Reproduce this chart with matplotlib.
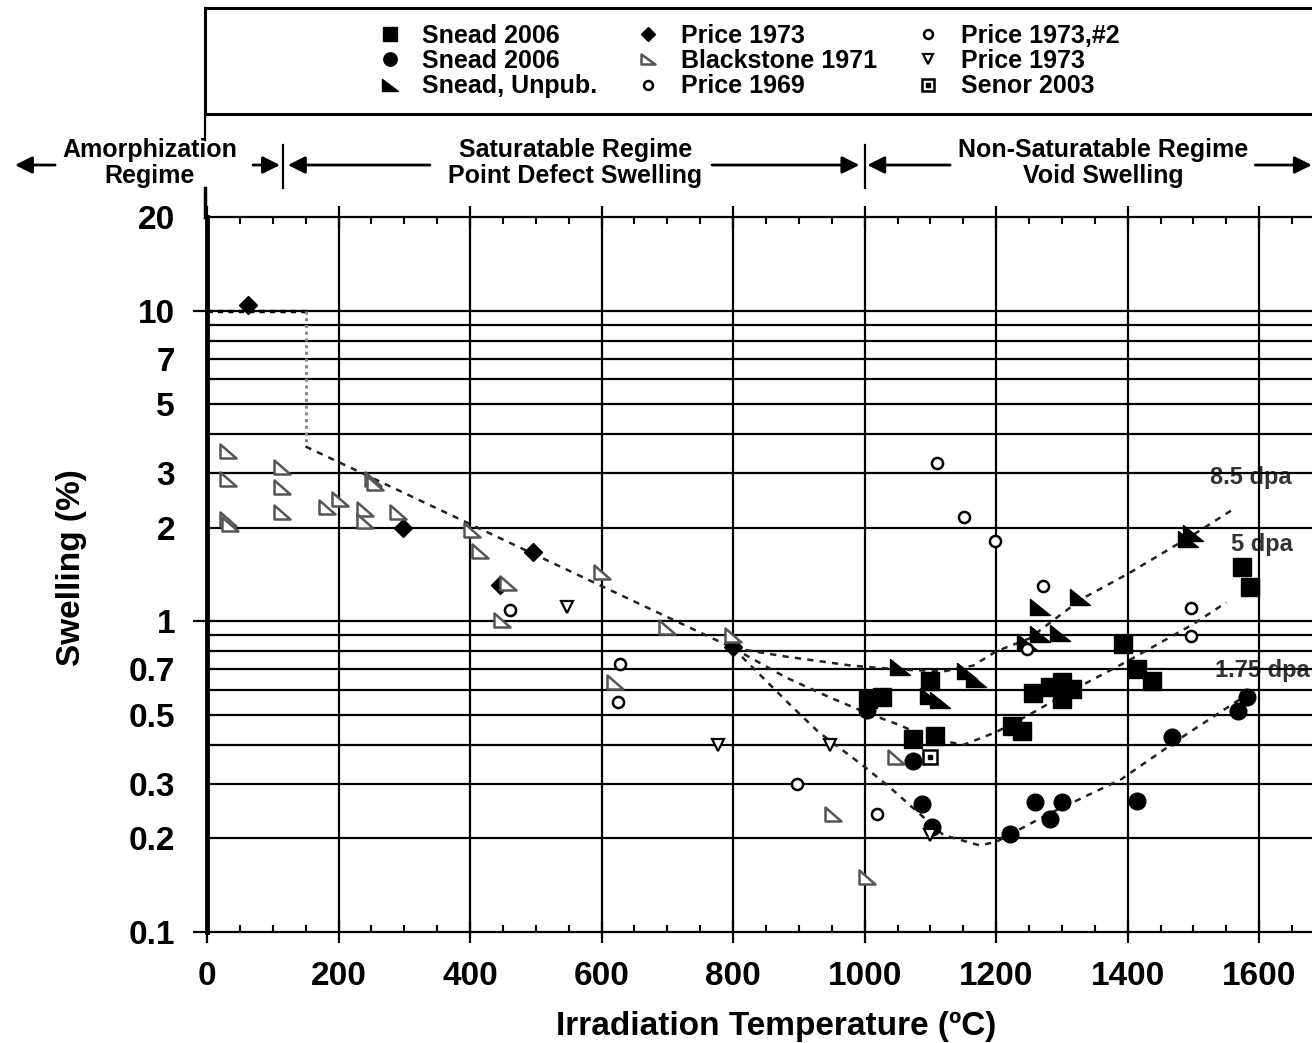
import matplotlib
matplotlib.use("Agg")
import matplotlib.pyplot as plt
from matplotlib.path import Path
from matplotlib.lines import Line2D
from matplotlib.patches import Rectangle
from matplotlib.ticker import FixedLocator, FixedFormatter, MultipleLocator

plt.rcParams['font.family'] = ['Liberation Sans', 'DejaVu Sans']
plt.rcParams['font.weight'] = 'bold'

# ---- measured swelling data (temperature in C, swelling in %) ----
snead_sq_t = [1005, 1027, 1100, 1074, 1107, 1224, 1240, 1256, 1282, 1300, 1300, 1316, 1393, 1414, 1437, 1574, 1586]
snead_sq_s = [0.561, 0.570, 0.641, 0.418, 0.427, 0.460, 0.443, 0.587, 0.613, 0.637, 0.561, 0.604, 0.844, 0.70, 0.641, 1.50, 1.29]

snead_ci_t = [1004, 1074, 1087, 1103, 1221, 1259, 1300, 1282, 1414, 1468, 1567, 1582]
snead_ci_s = [0.52, 0.355, 0.258, 0.218, 0.207, 0.262, 0.262, 0.231, 0.264, 0.424, 0.514, 0.57]

snead_un_t = [1054, 1155, 1170, 1100, 1115, 1267, 1247, 1267, 1297, 1328, 1492, 1500]
snead_un_s = [0.711, 0.69, 0.65, 0.575, 0.56, 1.11, 0.856, 0.908, 0.92, 1.20, 1.84, 1.93]

price73_t = [62, 298, 446, 496, 800]
price73_s = [10.4, 2.0, 1.31, 1.67, 0.825]

black71_t = [32, 32, 32, 35, 114, 114, 114, 183, 202, 240, 240, 252, 255, 290, 403, 415,
             458, 449, 601, 700, 620, 800, 952, 1004, 1048]
black71_s = [3.52, 2.86, 2.13, 2.06, 3.13, 2.70, 2.24, 2.33, 2.47, 2.29, 2.10, 2.86, 2.78, 2.24, 1.97, 1.68,
             1.33, 1.01, 1.44, 0.957, 0.636, 0.90, 0.24, 0.15, 0.366]

price69_t = [461, 625, 628, 897, 1019]
price69_s = [1.09, 0.55, 0.727, 0.30, 0.24]

price73b_t = [1110, 1151, 1198, 1271, 1497, 1497, 1247]
price73b_s = [3.22, 2.16, 1.81, 1.30, 1.10, 0.895, 0.813]

price73v_t = [548, 777, 948, 1100]
price73v_s = [1.11, 0.40, 0.40, 0.205]

senor_t = [1100]
senor_s = [0.365]

# ---- trend lines ----
amorph_t = [0, 150, 150]
amorph_s = [10, 10, 3.65]
sat_t = [150, 800]
sat_s = [3.65, 0.82]
dpa85_t = [800, 880, 980, 1050, 1120, 1165, 1200, 1250, 1330, 1400, 1500, 1560]
dpa85_s = [0.82, 0.77, 0.72, 0.70, 0.69, 0.72, 0.80, 0.88, 1.18, 1.42, 1.90, 2.29]
dpa5_t = [800, 880, 943, 1000, 1050, 1100, 1150, 1200, 1250, 1310, 1400, 1500, 1550]
dpa5_s = [0.82, 0.66, 0.574, 0.51, 0.466, 0.42, 0.40, 0.44, 0.50, 0.59, 0.745, 0.98, 1.15]
dpa175_t = [800, 890, 930, 1000, 1040, 1120, 1175, 1200, 1280, 1390, 1480, 1570]
dpa175_s = [0.82, 0.53, 0.44, 0.34, 0.29, 0.205, 0.19, 0.195, 0.24, 0.31, 0.42, 0.56]

dpa_labels = ['8.5 dpa', '5 dpa', '1.75 dpa']
dpa_label_t = [1525, 1557, 1533]
dpa_label_s = [2.9, 1.77, 0.696]

regime_names = ['Amorphization\nRegime', 'Saturatable Regime\nPoint Defect Swelling',
                'Non-Saturatable Regime\nVoid Swelling']
regime_centers = [-87, 560, 1363]
regime_bounds = [116, 1000]

x_ticks = [0, 200, 400, 600, 800, 1000, 1200, 1400, 1600]
y_major = [0.1, 1, 10]
y_minor = [0.2, 0.3, 0.5, 0.7, 2, 3, 5, 7, 20]
y_grid = [0.2, 0.3, 0.4, 0.5, 0.6, 0.7, 0.8, 0.9, 1, 2, 3, 4, 5, 6, 7, 8, 9, 10]

# right-angle triangle marker (vertical left edge, flat bottom)
rtri = Path([(-1, 0.8), (-1, -0.8), (1, -0.8), (-1, 0.8)],
            [Path.MOVETO, Path.LINETO, Path.LINETO, Path.CLOSEPOLY])

W, H = 1312, 1043
fig = plt.figure(figsize=(W / 100, H / 100), dpi=100)
ax = fig.add_axes([207 / W, 1 - 932 / H, 1118 / W, 715 / H])
ax.set_yscale('log')
ax.set_xlim(0, 1700)
ax.set_ylim(0.1, 20)

for xv in x_ticks[1:]:
    ax.axvline(xv, color='k', lw=1.6, zorder=1.5)
for yv in y_grid:
    ax.axhline(yv, color='k', lw=1.6, zorder=1.5)

# trend lines
ax.plot(amorph_t[:2], amorph_s[:2], color='k', lw=2.5, dashes=(1.5, 1.5), zorder=2.5)
ax.plot(amorph_t[1:], amorph_s[1:], color='#888888', lw=2.2, dashes=(1, 1.2), zorder=2.5)
for tt, ss in [(sat_t, sat_s), (dpa85_t, dpa85_s), (dpa5_t, dpa5_s), (dpa175_t, dpa175_s)]:
    ax.plot(tt, ss, color='#222222', lw=1.8, dashes=(2.5, 2.5), zorder=2.5)

for lab, tv, sv in zip(dpa_labels, dpa_label_t, dpa_label_s):
    ax.text(tv, sv, lab, fontsize=17, color='#333333', va='center', ha='left', zorder=1)

# data series
h_sq, = ax.plot(snead_sq_t, snead_sq_s, 's', ms=13, color='k', ls='none', zorder=3)
h_ci, = ax.plot(snead_ci_t, snead_ci_s, 'o', ms=12, color='k', ls='none', zorder=3)
h_un, = ax.plot(snead_un_t, snead_un_s, marker=rtri, ms=14, color='k', ls='none', zorder=3)
h_p73, = ax.plot(price73_t, price73_s, 'D', ms=9, color='k', ls='none', zorder=3)
h_bl, = ax.plot(black71_t, black71_s, marker=rtri, ms=12, mfc='white', mec='#555555', mew=1.8,
                ls='none', zorder=3)
h_p69, = ax.plot(price69_t, price69_s, 'o', ms=8, mfc='white', mec='k', mew=1.8, ls='none', zorder=3)
h_p73b, = ax.plot(price73b_t, price73b_s, 'o', ms=8, mfc='white', mec='k', mew=1.8, ls='none', zorder=3)
h_p73v, = ax.plot(price73v_t, price73v_s, 'v', ms=9, mfc='white', mec='k', mew=1.6, ls='none', zorder=3)
h_sen, = ax.plot(senor_t, senor_s, 's', ms=10, mfc='white', mec='k', mew=1.8, ls='none', zorder=3)
h_sen_dot, = ax.plot(senor_t, senor_s, 's', ms=3, color='k', ls='none', zorder=3.1)

# axes styling
ax.spines['left'].set_linewidth(3.5)
ax.spines['bottom'].set_linewidth(1.6)
ax.spines['top'].set_linewidth(1.6)
ax.spines['right'].set_visible(False)

ax.xaxis.set_major_locator(FixedLocator(x_ticks))
ax.xaxis.set_minor_locator(MultipleLocator(50))
ax.tick_params(axis='x', which='major', direction='inout', length=16, width=1.6,
               top=True, labelsize=24, pad=13)
ax.tick_params(axis='x', which='minor', direction='in', length=5, width=1.5, top=True)

ax.yaxis.set_major_locator(FixedLocator(y_major))
ax.yaxis.set_major_formatter(FixedFormatter(['0.1', '1', '10']))
ax.yaxis.set_minor_locator(FixedLocator(y_minor))
ax.yaxis.set_minor_formatter(FixedFormatter(['0.2', '0.3', '0.5', '0.7', '2', '3', '5', '7', '20']))
ax.tick_params(axis='y', which='major', direction='out', length=10, width=1.6, labelsize=24, pad=13)
ax.tick_params(axis='y', which='minor', length=0, labelsize=24, pad=23)

ax.set_xlabel('Irradiation Temperature (ºC)', fontsize=24, fontweight='bold', va='top')
ax.xaxis.set_label_coords(0.509, -0.11)
ax.set_ylabel('Swelling (%)', fontsize=24, fontweight='bold')
ax.yaxis.set_label_coords(-0.107, 0.51)

# regime header above the plot
tr = ax.get_xaxis_transform()
for name, xc in zip(regime_names, regime_centers):
    ax.text(xc, 1.075, name, transform=tr, ha='center', va='center', fontsize=18,
            linespacing=1.1, clip_on=False)
for xb in regime_bounds:
    ax.plot([xb, xb], [1.04, 1.10], transform=tr, color='k', lw=1.6, clip_on=False)

arrows = [(-231, -292), (70, 111), (339, 123), (768, 992), (1130, 1004), (1594, 1680)]
for tail, head in arrows:
    ax.annotate('', xy=(head, 1.0727), xytext=(tail, 1.0727), xycoords=tr, textcoords=tr,
                arrowprops=dict(arrowstyle='-|>', color='k', lw=2, mutation_scale=26,
                                shrinkA=0, shrinkB=0),
                annotation_clip=False)

# legend box
fig.patches.append(Rectangle((205 / W, 1 - 114 / H), 1.0, 106 / H, transform=fig.transFigure,
                             fill=False, lw=2.2, color='k'))
fig.lines.append(Line2D([205 / W, 205 / W], [1 - 114 / H, 1 - 140 / H], transform=fig.transFigure,
                        color='k', lw=1.6))
fig.lines.append(Line2D([205 / W, 205 / W], [1 - 188 / H, 1 - 217 / H], transform=fig.transFigure,
                        color='k', lw=2.5))

handles = [h_sq, h_ci, h_un, h_p73, h_bl, h_p69, h_p73b, h_p73v, (h_sen, h_sen_dot)]
labels = ['Snead 2006', 'Snead 2006', 'Snead, Unpub.', 'Price 1973', 'Blackstone 1971',
          'Price 1969', 'Price 1973,#2', 'Price 1973', 'Senor 2003']
fig.legend(handles, labels, ncol=3, loc='center left', bbox_to_anchor=(377 / W, 1 - 61 / H),
           frameon=False, prop=dict(weight='bold', size=18), handlelength=1.0,
           handletextpad=0.8, columnspacing=1.55, labelspacing=0.05, markerscale=0.8,
           borderaxespad=0, borderpad=0)

fig.savefig('out.png', dpi=100)
